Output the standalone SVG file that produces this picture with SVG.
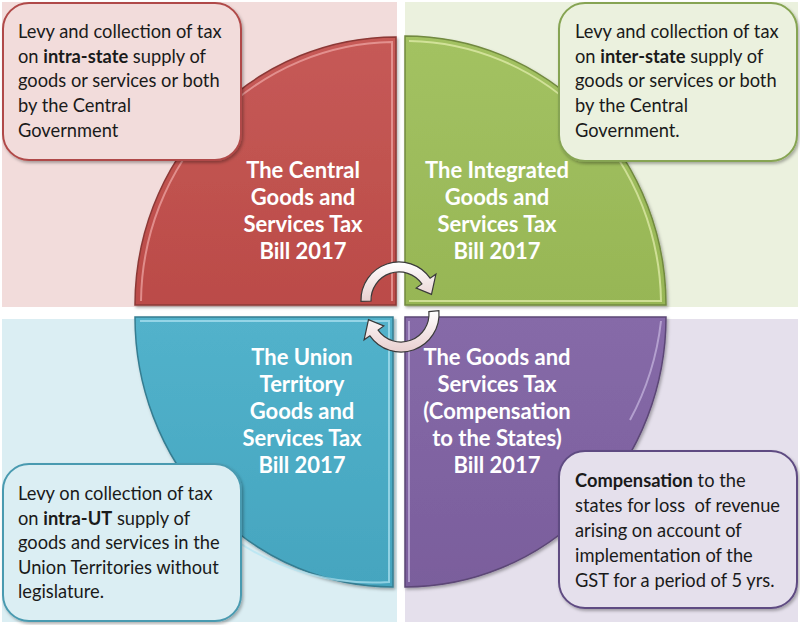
<svg xmlns="http://www.w3.org/2000/svg" width="800" height="625" viewBox="0 0 800 625">
<defs>
<style>
.bg{stroke:none}
.q{stroke-width:1.5}
.hl{fill:none;stroke-width:2;stroke-opacity:0.7}
.co{stroke-width:2}
.ct{font-family:Lato,"Open Sans",sans-serif;font-size:18.3px;fill:#1a1a1a}
.tt{font-family:Lato,"Open Sans",sans-serif;font-size:22px;font-weight:bold;fill:#ffffff;text-anchor:middle}
.b{font-weight:bold}
.arr{fill:url(#ga);stroke:#3a3a3a;stroke-width:1.2}
</style>
<linearGradient id="gr" x1="0" y1="0" x2="0" y2="1"><stop offset="0" stop-color="#c65a57"/><stop offset="1" stop-color="#bb4b48"/></linearGradient>
<linearGradient id="gg" x1="0" y1="0" x2="0" y2="1"><stop offset="0" stop-color="#a3c262"/><stop offset="1" stop-color="#97b655"/></linearGradient>
<linearGradient id="gb" x1="0" y1="0" x2="0" y2="1"><stop offset="0" stop-color="#52b2cb"/><stop offset="1" stop-color="#45a5bf"/></linearGradient>
<linearGradient id="gp" x1="0" y1="0" x2="0" y2="1"><stop offset="0" stop-color="#866aa8"/><stop offset="1" stop-color="#7a5e9c"/></linearGradient>
<linearGradient id="ga" x1="0" y1="0" x2="0" y2="1"><stop offset="0" stop-color="#ffffff"/><stop offset="1" stop-color="#e8cfcf"/></linearGradient>
<filter id="sh" x="-10%" y="-10%" width="120%" height="120%"><feDropShadow dx="1.5" dy="2" stdDeviation="1.5" flood-color="#000" flood-opacity="0.3"/></filter>
</defs>

<g id="backgrounds">
<rect class="bg" x="2" y="2" width="395" height="305" fill="#f2dcdb"/>
<rect class="bg" x="405" y="2" width="393" height="305" fill="#ebf1de"/>
<rect class="bg" x="2" y="319" width="395" height="303" fill="#dbeef3"/>
<rect class="bg" x="405" y="319" width="393" height="303" fill="#e5e0ec"/>
</g>

<g id="quad-central">
<path class="q" d="M396,305 L135,305 A261 268 0 0 1 396,37 Z" fill="url(#gr)" stroke="#8c3836" filter="url(#sh)"/>
<path class="hl" d="M141,301 A255 262 0 0 1 392,42 L392,301" stroke="#f0a8a6"/>
</g>
<g id="quad-integrated">
<path class="q" d="M405,305 L405,36 A261 269 0 0 1 666,305 Z" fill="url(#gg)" stroke="#71893f" filter="url(#sh)"/>
<path class="hl" d="M409,41 A256 264 0 0 1 661,301 L409,301" stroke="#e6f0b0"/>
</g>
<g id="quad-union">
<path class="q" d="M393,317 L393,587 A258 270 0 0 1 135,317 Z" fill="url(#gb)" stroke="#357d91" filter="url(#sh)"/>
<path class="hl" d="M140,321 L389,321 L389,582 A253 265 0 0 1 235,540" stroke="#b0e4f2"/>
</g>
<g id="quad-compensation">
<path class="q" d="M405,317 L666,317 A261 270 0 0 1 405,587 Z" fill="url(#gp)" stroke="#5c4776" filter="url(#sh)"/>
<path class="hl" d="M409,582 L409,321 M630,420 A256 265 0 0 0 661,321" stroke="#c8b8e0"/>
</g>

<g id="callout-central" filter="url(#sh)">
<rect class="co" x="3" y="3" width="238" height="157" rx="26" fill="#f2dcdb" stroke="#b04a48"/>
</g>
<g id="callout-integrated" filter="url(#sh)">
<rect class="co" x="559" y="3" width="238" height="158" rx="26" fill="#ebf1de" stroke="#86a452"/>
</g>
<g id="callout-union" filter="url(#sh)">
<rect class="co" x="3" y="464" width="238" height="157" rx="26" fill="#dbeef3" stroke="#4a9ab0"/>
</g>
<g id="callout-compensation" filter="url(#sh)">
<rect class="co" x="559" y="451" width="238" height="157" rx="26" fill="#e5e0ec" stroke="#5f4b82"/>
</g>

<g id="callout-texts">
<text class="ct" x="18" y="38">Levy and collection of tax</text>
<text class="ct" x="18" y="63">on <tspan class="b">intra-state</tspan> supply of</text>
<text class="ct" x="18" y="87">goods or services or both</text>
<text class="ct" x="18" y="112">by the Central</text>
<text class="ct" x="18" y="137">Government</text>

<text class="ct" x="575" y="38">Levy and collection of tax</text>
<text class="ct" x="575" y="63">on <tspan class="b">inter-state</tspan> supply of</text>
<text class="ct" x="575" y="87">goods or services or both</text>
<text class="ct" x="575" y="112">by the Central</text>
<text class="ct" x="575" y="137">Government.</text>

<text class="ct" x="18" y="500">Levy on collection of tax</text>
<text class="ct" x="18" y="525">on <tspan class="b">intra-UT</tspan> supply of</text>
<text class="ct" x="18" y="549">goods and services in the</text>
<text class="ct" x="18" y="574">Union Territories without</text>
<text class="ct" x="18" y="598">legislature.</text>

<text class="ct" x="575" y="487"><tspan class="b">Compensation</tspan> to the</text>
<text class="ct" x="575" y="512" xml:space="preserve">states for loss  of revenue</text>
<text class="ct" x="575" y="537">arising on account of</text>
<text class="ct" x="575" y="562">implementation of the</text>
<text class="ct" x="575" y="587">GST for a period of 5 yrs.</text>
</g>

<g id="titles">
<text class="tt" x="303" y="178">The Central</text>
<text class="tt" x="303" y="205">Goods and</text>
<text class="tt" x="303" y="232">Services Tax</text>
<text class="tt" x="303" y="259">Bill 2017</text>

<text class="tt" x="497" y="178">The Integrated</text>
<text class="tt" x="497" y="205">Goods and</text>
<text class="tt" x="497" y="232">Services Tax</text>
<text class="tt" x="497" y="259">Bill 2017</text>

<text class="tt" x="302" y="365">The Union</text>
<text class="tt" x="302" y="392">Territory</text>
<text class="tt" x="302" y="419">Goods and</text>
<text class="tt" x="302" y="446">Services Tax</text>
<text class="tt" x="302" y="473">Bill 2017</text>

<text class="tt" x="497" y="365">The Goods and</text>
<text class="tt" x="497" y="392">Services Tax</text>
<text class="tt" x="497" y="419">(Compensation</text>
<text class="tt" x="497" y="446">to the States)</text>
<text class="tt" x="497" y="473">Bill 2017</text>
</g>

<g id="connectors">
<path class="arr" d="M361,301.3 A38 38 0 0 1 430.1,278.2 L435.9,274.2 L431.5,294.3 L416.2,288 L421.9,283.9 A28 28 0 0 0 371,301 Z"/>
<path class="arr" d="M438.9,310.7 A38 38 0 0 1 369.9,335.8 L364.1,339.8 L368.5,319.7 L383.8,326 L378.1,330.1 A28 28 0 0 0 428.9,311.6 Z"/>
</g>
</svg>
